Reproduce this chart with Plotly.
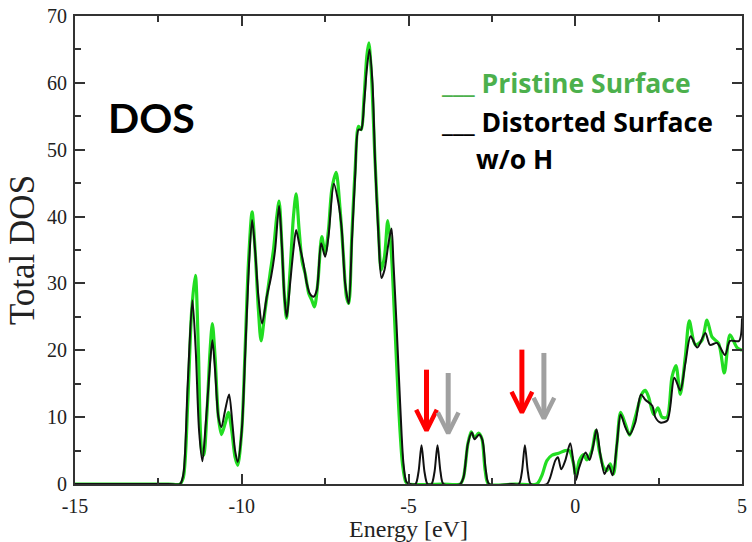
import plotly.graph_objects as go

# ---- data ----
energy_pristine = [-15, -12.2, -11.85, -11.75, -11.62, -11.5, -11.39, -11.3, -11.2, -11.14, -11.05, -10.95,
                   -10.88, -10.8, -10.7, -10.61, -10.5, -10.4, -10.3, -10.2, -10.12, -10.0, -9.9, -9.8,
                   -9.69, -9.6, -9.5, -9.42, -9.3, -9.15, -9.05, -8.95, -8.88, -8.8, -8.72, -8.66, -8.55,
                   -8.45, -8.37, -8.28, -8.19, -8.1, -7.99, -7.9, -7.82, -7.72, -7.6, -7.5, -7.4, -7.3,
                   -7.17, -7.05, -6.95, -6.86, -6.79, -6.7, -6.6, -6.5, -6.42, -6.33, -6.25, -6.19, -6.12,
                   -6.0, -5.9, -5.82, -5.72, -5.62, -5.52, -5.42, -5.3, -5.18, -5.08, -5.0,
                   -4.0, -3.45, -3.35, -3.22, -3.12, -3.02, -2.9, -2.8, -2.7, -2.6,
                   -1.8, -1.15, -1.0, -0.85, -0.7, -0.5, -0.3, -0.18, -0.05, 0.02, 0.12, 0.25, 0.35,
                   0.5, 0.62, 0.72, 0.85, 0.95, 1.05, 1.15, 1.25, 1.36, 1.5, 1.63, 1.8, 2.0, 2.1, 2.2,
                   2.35, 2.48, 2.6, 2.75, 2.9, 3.02, 3.15, 3.3, 3.42, 3.6, 3.8, 3.95, 4.1, 4.3, 4.47,
                   4.64, 4.85, 5.0]
dos_pristine = [0, 0, 0, 1, 12, 26, 31.2, 20, 5, 4.3, 10, 20,
                24, 19, 10, 7.4, 9, 10.7, 8, 4, 2.8, 8, 20, 33,
                40.7, 35, 26, 21.4, 26, 31.5, 35, 40, 42.3, 36, 28, 24.8, 32,
                40, 43.4, 38, 33.3, 31.5, 28.5, 27.5, 26.5, 30, 37, 34.5, 38, 44,
                46.6, 41, 34, 28, 27, 37, 47, 53.5, 53, 58, 64, 66, 62,
                48, 38, 32, 34, 39.4, 35, 25, 12, 3, 0.3, 0,
                0, 0, 1, 6, 7.8, 6.9, 7.6, 6.8, 2, 0,
                0, 0, 1.3, 3.5, 4.3, 4.6, 5.0, 5.0, 3, 1, 3.5, 4.4, 3.6,
                5, 8, 5, 2.5, 2, 3, 1.5, 6, 10.7, 9, 7.3, 10, 13.5, 14, 13,
                10.4, 11.4, 10, 10, 16, 17.7, 13.4, 19, 24.4, 20.8, 21.5, 24.5, 22, 21, 16.6,
                22.3, 20.4, 20]

energy_distorted = [-15, -12.2, -11.85, -11.75, -11.62, -11.48, -11.38, -11.28, -11.18, -11.08, -10.95,
                    -10.88, -10.8, -10.7, -10.61, -10.5, -10.38, -10.28, -10.2, -10.12, -10.0, -9.9,
                    -9.8, -9.69, -9.6, -9.5, -9.39, -9.25, -9.12, -9.0, -8.88, -8.8, -8.72, -8.65,
                    -8.55, -8.45, -8.37, -8.28, -8.15, -8.05, -7.96, -7.85, -7.75, -7.62, -7.5, -7.4,
                    -7.24, -7.1, -7.0, -6.9, -6.79, -6.7, -6.6, -6.5, -6.42, -6.33, -6.25, -6.17,
                    -6.08, -6.0, -5.9, -5.81, -5.72, -5.6, -5.51, -5.45, -5.36, -5.25, -5.15, -5.06,
                    -4.95, -4.79, -4.7, -4.61, -4.52, -4.43, -4.31, -4.22, -4.13, -4.04, -3.95,
                    -3.45, -3.35, -3.22, -3.1, -3.02, -2.88, -2.78, -2.68, -2.58,
                    -1.9, -1.69, -1.6, -1.51, -1.42, -1.33, -0.85, -0.75, -0.6, -0.52, -0.42, -0.3,
                    -0.15, -0.05, 0.02, 0.12, 0.31, 0.43, 0.55, 0.64, 0.75, 0.88, 1.0, 1.12, 1.25,
                    1.36, 1.5, 1.63, 1.8, 1.97, 2.1, 2.31, 2.4, 2.55, 2.76, 2.97, 3.15, 3.3, 3.46,
                    3.66, 3.9, 4.04, 4.25, 4.49, 4.64, 4.91, 5.0]
dos_distorted = [0, 0, 0, 1.5, 15, 27.5, 20, 8, 3.4, 9, 18,
                 21.5, 17, 10, 8.5, 11, 13.4, 9, 5, 3.3, 8, 19,
                 31, 39.5, 35, 28, 24, 28, 31, 35, 41.6, 36, 28, 25,
                 30, 35, 38, 36, 33, 30, 28.5, 28, 29, 36, 34, 37,
                 44.9, 42, 38, 30, 27, 36, 46, 53, 53, 57, 62, 65,
                 60, 48, 37, 30.8, 32, 36, 38.2, 33, 24, 12, 3, 0.3,
                 0, 0, 1.8, 5.8, 1.8, 0, 0, 1.8, 5.8, 1.8, 0,
                 0, 1, 6, 7.7, 6.7, 7.4, 6.5, 2, 0,
                 0, 0, 1.8, 5.8, 1.8, 0, 0, 1, 3.5, 4, 2.2, 3.5,
                 6.1, 3, 0.6, 2.5, 4.7, 3.6, 6, 8.2, 4.5, 1.5, 2.8, 1.3, 6,
                 10.4, 8.5, 7.4, 9.2, 13.4, 12.6, 11.7, 10, 9.2, 9.5, 15.9, 14, 18, 22.1,
                 20.4, 22.6, 20.8, 21.1, 19.3, 21.4, 21.4, 24.8]

# arrows marking the states (energy, top of shaft, tip)
arrow_energy = [-4.46, -3.81, -1.60, -0.94]
arrow_top = [17.1, 16.6, 20.1, 19.6]
arrow_tip = [8.0, 7.6, 10.7, 9.8]
arrow_color = ["#ff0000", "#a0a0a0", "#ff0000", "#a0a0a0"]

x_ticks = [-15, -10, -5, 0, 5]
y_ticks = [0, 10, 20, 30, 40, 50, 60, 70]

fig = go.Figure()

fig.add_trace(go.Scatter(x=energy_pristine, y=dos_pristine, mode="lines",
                         line=dict(color="#22dd22", width=3.2, shape="spline", smoothing=0.8),
                         name="Pristine Surface", showlegend=False))
fig.add_trace(go.Scatter(x=energy_distorted, y=dos_distorted, mode="lines",
                         line=dict(color="#111111", width=2, shape="spline", smoothing=0.8),
                         name="Distorted Surface w/o H", showlegend=False))

head_dx = 0.31
head_dy = 3.1
for e, top, tip, col in zip(arrow_energy, arrow_top, arrow_tip, arrow_color):
    fig.add_trace(go.Scatter(x=[e, e], y=[top, tip + 0.6], mode="lines",
                             line=dict(color=col, width=5), showlegend=False, hoverinfo="skip"))
    fig.add_trace(go.Scatter(x=[e - head_dx, e, e + head_dx], y=[tip + head_dy, tip, tip + head_dy],
                             mode="lines", line=dict(color=col, width=4.5),
                             showlegend=False, hoverinfo="skip"))

serif = "Liberation Serif, Times New Roman, serif"
sans = "Lato, Open Sans, sans-serif"
legend_font = "Open Sans, Lato, sans-serif"

axis_common = dict(showline=True, linecolor="#333333", linewidth=2, mirror="ticks",
                   ticks="inside", tickcolor="#333333", tickwidth=1.5, ticklen=10,
                   showgrid=False, zeroline=False,
                   tickfont=dict(family=serif, size=20, color="#222222"))

fig.update_xaxes(range=[-15, 5], tickvals=x_ticks, ticktext=[str(v) for v in x_ticks],
                 minor=dict(tickvals=[-12.5, -7.5, -2.5, 2.5], ticks="inside", ticklen=6,
                            tickcolor="#333333", tickwidth=1.5),
                 ticklabelstandoff=3,
                 title=dict(text="Energy [eV]", font=dict(family=serif, size=24, color="#222222"),
                            standoff=3),
                 **axis_common)
fig.update_yaxes(range=[0, 70], tickvals=y_ticks, ticktext=[str(v) for v in y_ticks],
                 minor=dict(tickvals=[5, 15, 25, 35, 45, 55, 65], ticks="inside", ticklen=6,
                            tickcolor="#333333", tickwidth=1.5),
                 ticklabelstandoff=2,
                 title=dict(text="Total DOS", font=dict(family=serif, size=35, color="#222222"),
                            standoff=2),
                 **axis_common)

fig.add_annotation(x=-12.7, y=54.8, text="<b>DOS</b>", showarrow=False,
                   font=dict(family=sans, size=41, color="#000000"))
fig.add_annotation(x=-4.1, y=60.0, xanchor="left", text="<b>___ Pristine Surface</b>", showarrow=False,
                   font=dict(family=legend_font, size=26.5, color="#4cb04c"))
fig.add_annotation(x=-4.1, y=54.2, xanchor="left", text="<b>___ Distorted Surface</b>", showarrow=False,
                   font=dict(family=legend_font, size=26.5, color="#000000"))
fig.add_annotation(x=-3.05, y=48.6, xanchor="left", text="<b>w/o H</b>", showarrow=False,
                   font=dict(family=legend_font, size=26.5, color="#000000"))

fig.update_layout(width=752, height=542, margin=dict(l=75, r=5, t=16, b=55),
                  paper_bgcolor="white", plot_bgcolor="white", showlegend=False)

fig.write_html("out.html")
